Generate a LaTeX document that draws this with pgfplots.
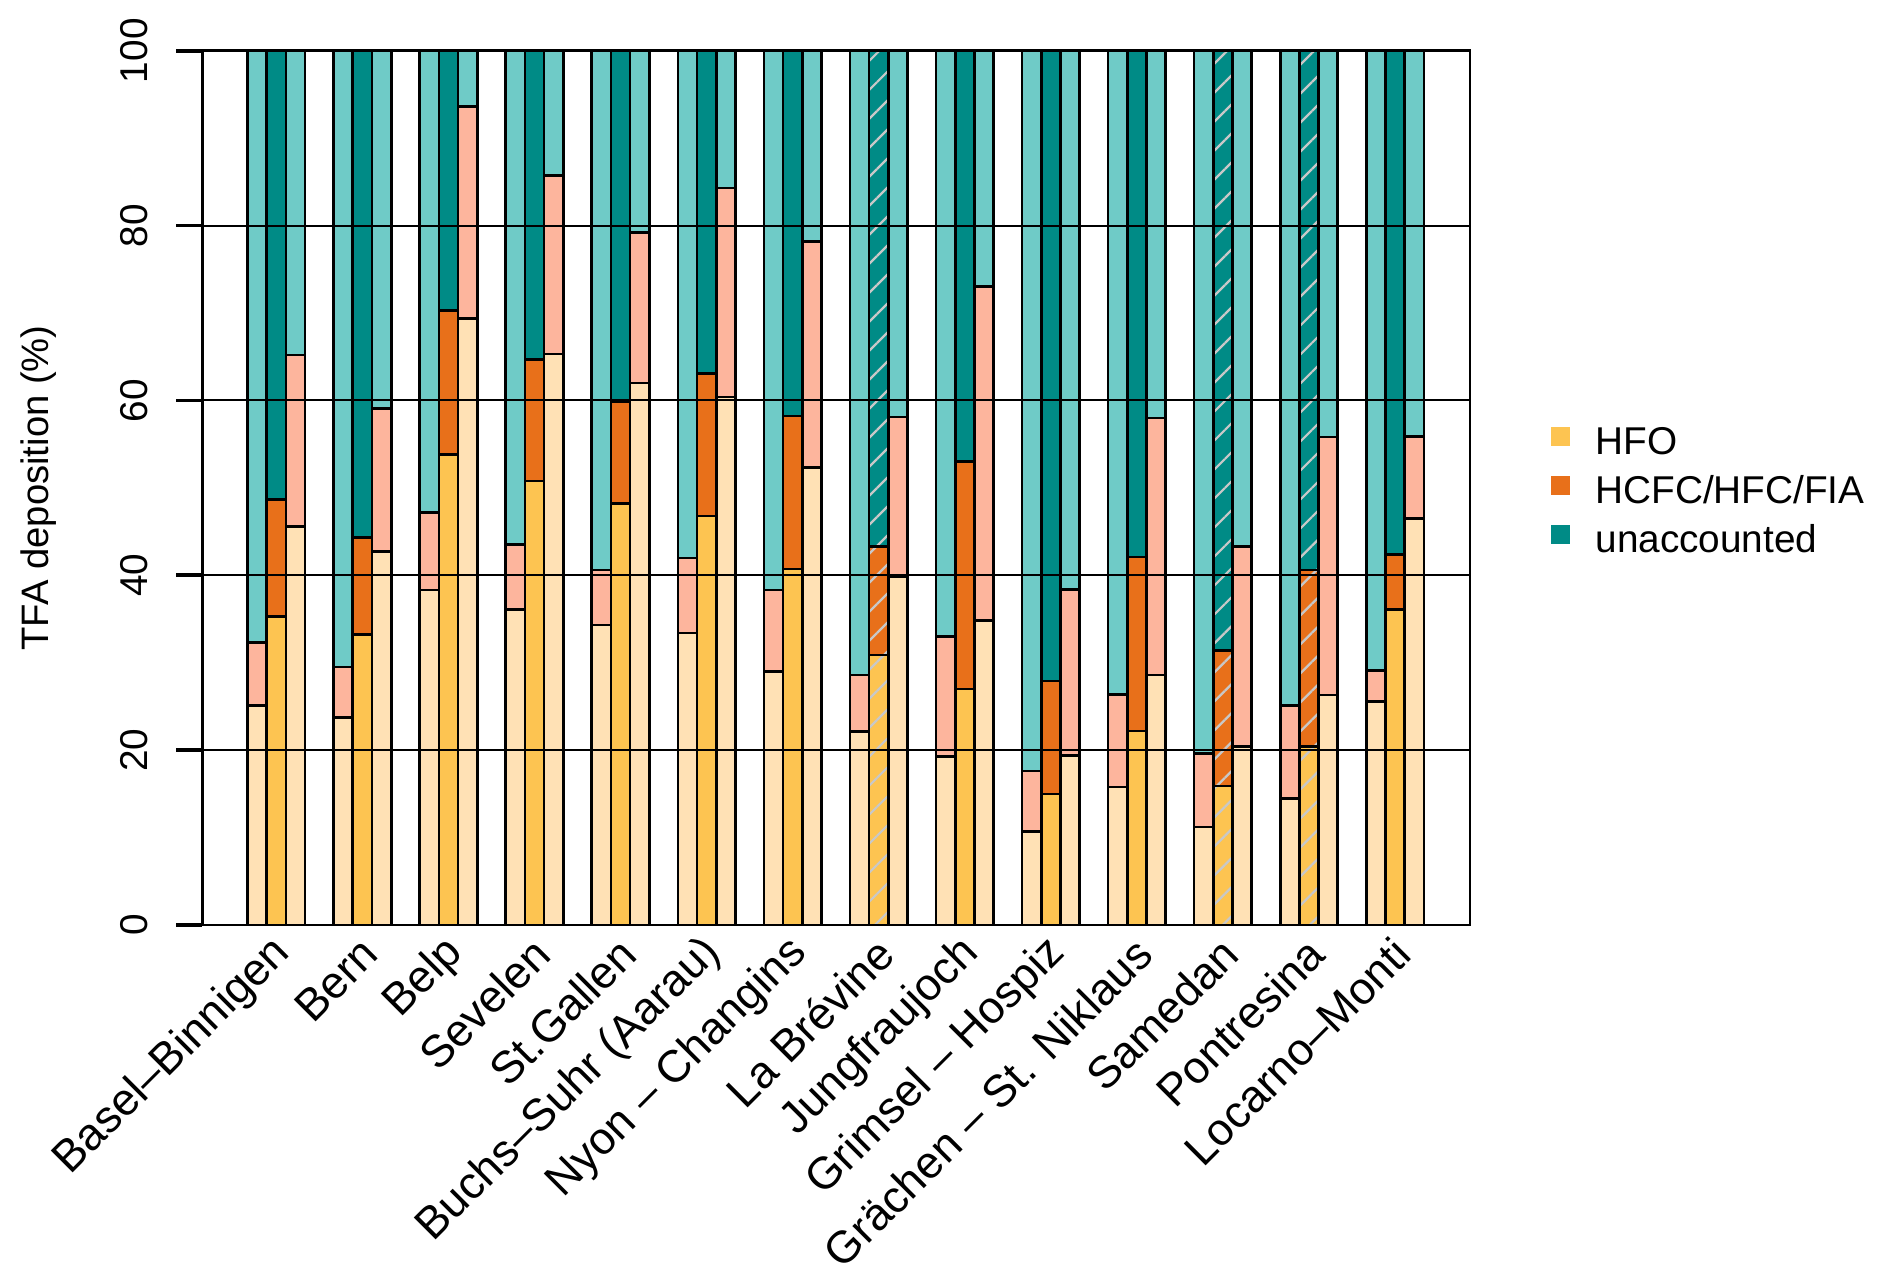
\documentclass[border=0pt]{standalone}
\usepackage{fontspec}
\setmainfont{Liberation Sans}
\usepackage{pgfplots}
\pgfplotsset{compat=1.18}
\usepackage{pgfplotstable}
\usetikzlibrary{patterns.meta}

\definecolor{hfo}{HTML}{FDC451}
\definecolor{hfol}{HTML}{FFE1B5}
\definecolor{hc}{HTML}{E8701A}
\definecolor{hcl}{HTML}{FDB59D}
\definecolor{un}{HTML}{008B86}
\definecolor{unl}{HTML}{6FCBC7}
\definecolor{hatchc}{HTML}{C8C8C8}

% i = station index, a = top of HFO, b = top of HCFC/HFC/FIA, t = top of unaccounted
\pgfplotstableread{
i a b t
0 25.1 32.3 100
1 23.7 29.5 100
2 38.3 47.2 100
3 36.1 43.5 100
4 34.3 40.6 100
5 33.4 42.0 100
6 29.0 38.3 100
7 22.1 28.6 100
8 19.3 33.0 100
9 10.7 17.6 100
10 15.8 26.4 100
11 11.2 19.6 100
12 14.5 25.1 100
13 25.6 29.1 100
}\Ldata

\pgfplotstableread{
i a b t
0 35.3 48.7 100
1 33.2 44.3 100
2 53.8 70.3 100
3 50.8 64.7 100
4 48.2 59.9 100
5 46.8 63.1 100
6 40.7 58.2 100
8 27.0 53.0 100
9 15.0 27.9 100
10 22.2 42.1 100
13 36.1 42.4 100
}\Mdata

\pgfplotstableread{
i a b t
7 30.9 43.3 100
11 15.9 31.4 100
12 20.4 40.6 100
}\MHdata

\pgfplotstableread{
i a b t
0 45.6 65.2 100
1 42.7 59.1 100
2 69.4 93.6 100
3 65.3 85.7 100
4 62.0 79.2 100
5 60.4 84.3 100
6 52.3 78.2 100
7 39.8 58.1 100
8 34.8 73.0 100
9 19.4 38.4 100
10 28.6 58.0 100
11 20.4 43.3 100
12 26.3 55.8 100
13 46.5 55.9 100
}\Rdata

\pgfplotsset{
  bars/.style={ybar, bar width=0.223, bar shift=0pt, draw=black, line width=1.05pt},
  hatched/.style={postaction={pattern={Lines[angle=45,distance=8.2pt,line width=0.9pt]}, pattern color=hatchc}},
}

\begin{document}
\begin{tikzpicture}
\begin{axis}[
  at={(0pt,0pt)}, anchor=south west,
  scale only axis, width=507.2pt, height=349.7pt,
  xmin=-0.864, xmax=13.871, ymin=0, ymax=100,
  axis on top,
  axis line style={line width=1.1pt},
  ymajorgrids, grid style={black, line width=0.8pt},
  ytick={0,20,40,60,80,100},
  xtick={0,...,13},
  xticklabels={Basel–Binnigen, Bern, Belp, Sevelen, St.Gallen, Buchs–Suhr (Aarau), Nyon – Changins, La Brévine, Jungfraujoch, Grimsel – Hospiz, Grächen – St. Niklaus, Samedan, Pontresina, Locarno–Monti},
  tick pos=left,
  xtick style={draw=none},
  ytick style={black, line width=1.5pt},
  ytick align=outside,
  major tick length=10.3pt,
  /pgf/number format/assume math mode=true,
  yticklabel style={font=\fontsize{15.5}{18}\selectfont, rotate=90, anchor=south, inner sep=0pt},
  yticklabel shift=11.1pt,
  xticklabel style={font=\fontsize{18}{21}\selectfont, xshift=3pt, rotate=45, anchor=east, inner sep=0pt},
  xticklabel shift=8.4pt,
  legend image code/.code={\fill[#1] (0pt,-0.9pt) rectangle (7.4pt,6.5pt);},
  legend cell align=left,
  legend style={
    at={(rel axis cs:1,0.5)}, anchor=west, xshift=32.4pt, yshift=-1.85pt,
    draw=none, fill=none, inner sep=0pt, outer sep=0pt,
    font=\fontsize{15.5}{18}\selectfont,
    row sep=5.1pt,
    nodes={inner sep=0pt, text height=11.5pt, text depth=3pt},
    /tikz/every odd column/.append style={column sep=10.4pt},
  },
]
\addlegendimage{fill=hfo, draw=none}
\addlegendentry{HFO}
\addlegendimage{fill=hc, draw=none}
\addlegendentry{HCFC/HFC/FIA}
\addlegendimage{fill=un, draw=none}
\addlegendentry{unaccounted}

% left bars
\addplot[bars, fill=unl] table[x expr=\thisrow{i}-0.223, y=t] {\Ldata};
\addplot[bars, fill=hcl] table[x expr=\thisrow{i}-0.223, y=b] {\Ldata};
\addplot[bars, fill=hfol] table[x expr=\thisrow{i}-0.223, y=a] {\Ldata};
% middle bars
\addplot[bars, fill=un] table[x=i, y=t] {\Mdata};
\addplot[bars, fill=hc] table[x=i, y=b] {\Mdata};
\addplot[bars, fill=hfo] table[x=i, y=a] {\Mdata};
% middle bars, hatched
\addplot[bars, fill=un, hatched] table[x=i, y=t] {\MHdata};
\addplot[bars, fill=hc, hatched] table[x=i, y=b] {\MHdata};
\addplot[bars, fill=hfo, hatched] table[x=i, y=a] {\MHdata};
% right bars
\addplot[bars, fill=unl] table[x expr=\thisrow{i}+0.223, y=t] {\Rdata};
\addplot[bars, fill=hcl] table[x expr=\thisrow{i}+0.223, y=b] {\Rdata};
\addplot[bars, fill=hfol] table[x expr=\thisrow{i}+0.223, y=a] {\Rdata};

\draw[line width=1.8pt] (rel axis cs:0,0) -- (rel axis cs:0,1);
\end{axis}
\node[rotate=90, anchor=base, font=\fontsize{15.3}{18}\selectfont] at (-61.2pt,174.85pt) {TFA deposition (\%)};
\pgfresetboundingbox
\path[use as bounding box] (-80.8pt,-141.2pt) rectangle (676pt,370pt);
\end{tikzpicture}
\end{document}
